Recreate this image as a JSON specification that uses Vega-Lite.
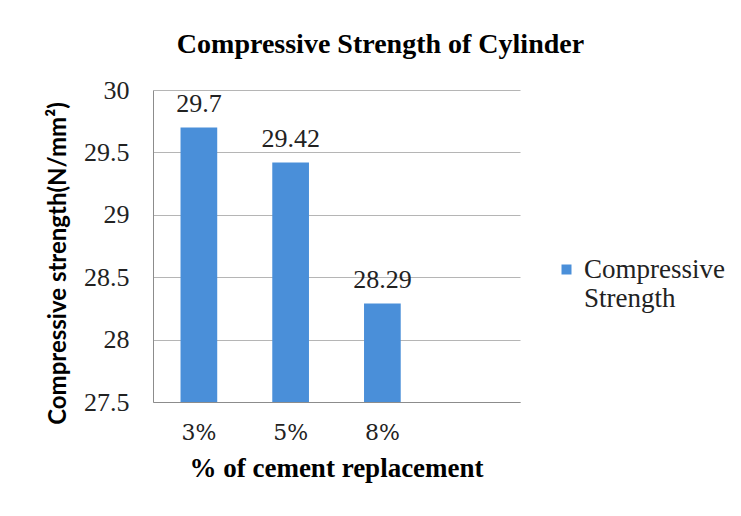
{
  "$schema": "https://vega.github.io/schema/vega-lite/v6.json",
  "width": 367,
  "height": 312,
  "autosize": {"type": "none"},
  "padding": {"left": 153, "top": 90, "right": 221, "bottom": 114},
  "background": "white",
  "title": {
    "text": "Compressive Strength of Cylinder",
    "font": "Liberation Serif",
    "fontSize": 28,
    "fontWeight": "bold",
    "color": "#000000",
    "anchor": "middle",
    "dx": 44,
    "offset": 18
  },
  "data": {
    "values": [
      {"replacement": "3%", "strength": 29.7, "series": "Compressive Strength"},
      {"replacement": "5%", "strength": 29.42, "series": "Compressive Strength"},
      {"replacement": "8%", "strength": 28.29, "series": "Compressive Strength"}
    ]
  },
  "config": {
    "view": {"stroke": null}
  },
  "encoding": {
    "x": {
      "field": "replacement",
      "type": "nominal",
      "scale": {"domain": ["3%", "5%", "8%", " "], "paddingInner": 0.6, "paddingOuter": 0.3},
      "axis": {
        "title": "% of cement replacement",
        "titleFont": "Liberation Serif",
        "titleFontSize": 27,
        "titleFontWeight": "bold",
        "titleColor": "#000000",
        "titleX": 183,
        "titlePadding": 12,
        "labelAngle": 0,
        "labelFont": "DejaVu Serif",
        "labelFontSize": 22,
        "labelFontWeight": 300,
        "labelColor": "#222222",
        "labelPadding": 20,
        "ticks": false,
        "domainColor": "#8c8c8c",
        "grid": false
      }
    },
    "y": {
      "field": "strength",
      "type": "quantitative",
      "scale": {"domain": [27.5, 30], "zero": false, "nice": false},
      "axis": {
        "title": "Compressive strength(N/mm²)",
        "titleFont": "Lato",
        "titleFontSize": 24,
        "titleFontWeight": "bold",
        "titleColor": "#000000",
        "titleAngle": -90,
        "titleX": -95,
        "titleY": 173,
        "titleAlign": "center",
        "titleBaseline": "middle",
        "values": [27.5, 28, 28.5, 29, 29.5, 30],
        "labelExpr": "toString(datum.value)",
        "labelFont": "Liberation Serif",
        "labelFontWeight": 500,
        "labelColor": "#222222",
        "labelFontSize": 26,
        "labelPadding": 24,
        "ticks": false,
        "domainColor": "#8c8c8c",
        "gridColor": "#b5b5b5",
        "gridWidth": 1.2
      }
    }
  },
  "layer": [
    {
      "mark": {"type": "bar", "clip": true},
      "encoding": {
        "fill": {
          "field": "series",
          "type": "nominal",
          "scale": {"range": ["#4a8fd9"]},
          "legend": {
            "title": null,
            "orient": "none",
            "legendX": 400,
            "legendY": 166,
            "symbolType": "square",
            "symbolSize": 100,
            "symbolStrokeWidth": 0,
            "labelFont": "Liberation Serif",
            "labelFontWeight": "normal",
            "labelFontSize": 27,
            "labelColor": "#222222",
            "labelLimit": 300,
            "labelExpr": "split(datum.label, ' ')",
            "labelOffset": 4
          }
        }
      }
    },
    {
      "mark": {
        "type": "text",
        "font": "Times New Roman",
        "fontWeight": "normal",
        "fontSize": 26,
        "color": "#222222",
        "baseline": "alphabetic",
        "dy": -15
      },
      "encoding": {
        "text": {"field": "strength", "type": "quantitative"}
      }
    }
  ]
}
